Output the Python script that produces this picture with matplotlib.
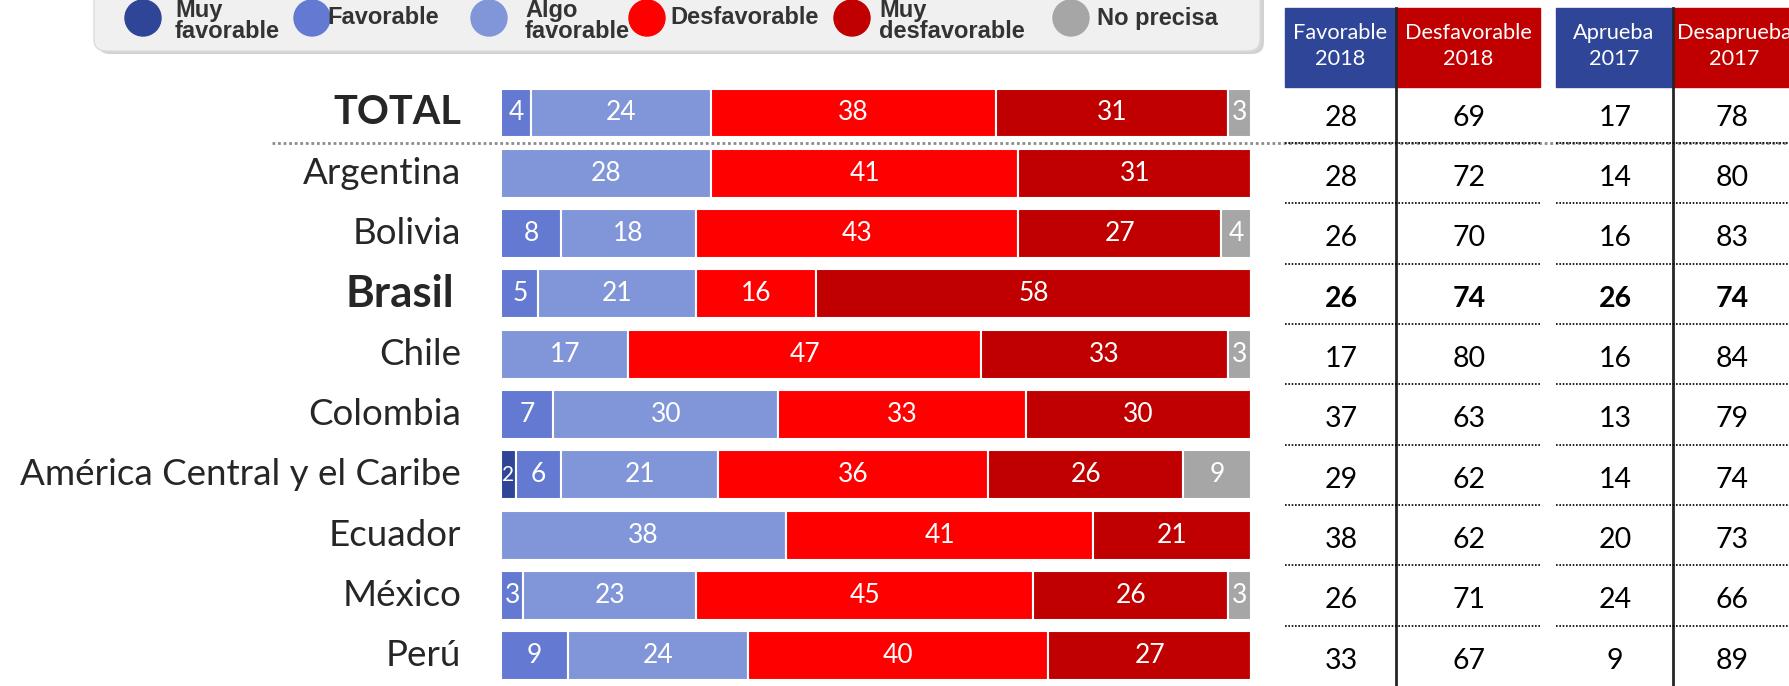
import numpy as np
import matplotlib
matplotlib.use("Agg")
import matplotlib.pyplot as plt
from matplotlib.patches import FancyBboxPatch, Circle, Rectangle

plt.rcParams['font.family'] = ['Lato', 'DejaVu Sans']

# datos
paises = ["TOTAL", "Argentina", "Bolivia", "Brasil", "Chile", "Colombia",
          "América Central y el Caribe", "Ecuador", "México", "Perú"]
muy_fav = [0, 0, 0, 0, 0, 0, 2, 0, 0, 0]
fav = [4, 0, 8, 5, 0, 7, 6, 0, 3, 9]
algo_fav = [24, 28, 18, 21, 17, 30, 21, 38, 23, 24]
desf = [38, 41, 43, 16, 47, 33, 36, 41, 45, 40]
muy_desf = [31, 31, 27, 58, 33, 30, 26, 21, 26, 27]
no_precisa = [3, 0, 4, 0, 3, 0, 9, 0, 3, 0]

fav_2018 = [28, 28, 26, 26, 17, 37, 29, 38, 26, 33]
desf_2018 = [69, 72, 70, 74, 80, 63, 62, 62, 71, 67]
aprueba_2017 = [17, 14, 16, 26, 16, 13, 14, 20, 24, 9]
desaprueba_2017 = [78, 80, 83, 74, 84, 79, 74, 73, 66, 89]

series = [muy_fav, fav, algo_fav, desf, muy_desf, no_precisa]
nombres = ["Muy\nfavorable", "Favorable", "Algo\nfavorable", "Desfavorable",
           "Muy\ndesfavorable", "No precisa"]
colores = ["#2f4598", "#6479d1", "#8195d9", "#ff0000", "#c00000", "#a6a6a6"]

W, H = 1790, 686
fig = plt.figure(figsize=(W / 100, H / 100), dpi=100)

# capa de fondo en pixeles
ax0 = fig.add_axes([0, 0, 1, 1])
ax0.set_xlim(0, W)
ax0.set_ylim(H, 0)
ax0.axis("off")

# leyenda
ax0.add_patch(FancyBboxPatch((98, -30), 1166, 84, boxstyle="round,pad=0,rounding_size=12",
                             fc="#b5b5b5", ec="none", alpha=0.6))
ax0.add_patch(FancyBboxPatch((94, -30), 1166, 81, boxstyle="round,pad=0,rounding_size=12",
                             fc="#f0f0f0", ec="#dcdcdc", lw=1))
circ_x = [143, 312, 489, 647, 852, 1071]
text_x = [175, 327, 525, 670, 879, 1097]
for cx, tx, nom, col in zip(circ_x, text_x, nombres, colores):
    ax0.add_patch(Circle((cx, 18), 18, color=col))
    ty = 21 if "\n" in nom else 18
    ax0.text(tx, ty, nom, ha="left", va="center", fontsize=17, fontweight="bold",
             family=["Liberation Sans", "DejaVu Sans"], color="#333333", linespacing=0.93)

# barras
fila0, paso = 113, 60.3
n = len(paises)
y_top = fila0 - paso / 2
y_bot = fila0 + paso * (n - 0.5)
pos = [501 / W, 1 - y_bot / H, 750 / W, (y_bot - y_top) / H]
ax = fig.add_axes(pos)
ax.patch.set_alpha(0)
y = np.arange(n)
left = np.zeros(n)
for vals, col in zip(series, colores):
    vals = np.array(vals)
    bars = ax.barh(y, vals, left=left, height=0.81, color=col, edgecolor="white", linewidth=1.5)
    for b, v in zip(bars, vals):
        if v > 0:
            ax.text(b.get_x() + b.get_width() / 2, b.get_y() + b.get_height() / 2, str(v),
                    ha="center", va="center", color="white", fontsize=19 if v > 2 else 15)
    left += vals
ax.set_xlim(0, 100)
ax.set_ylim(n - 0.5, -0.5)
ax.axis("off")

for i, p in enumerate(paises):
    if p == "TOTAL":
        ax.text(-5.3, i, p, ha="right", va="center", fontsize=28.5, fontweight="bold", color="#262626")
    elif p == "Brasil":
        ax.text(-6.2, i, p, ha="right", va="center", fontsize=31.5, fontweight="bold", color="#262626")
    else:
        ax.text(-5.3, i, p, ha="right", va="center", fontsize=26.5, color="#262626")

def fila(py):
    return (py - fila0) / paso

# separador bajo TOTAL
ax.plot([(272 - 501) / 7.5, (1790 - 501) / 7.5], [0.5, 0.5], color="#8c8c8c", lw=2,
        ls=(0, (1, 1)), clip_on=False)

# tabla
ax_t = fig.add_axes([1250 / W, pos[1], 540 / W, pos[3]], sharey=ax)
ax_t.set_xlim(1250, 1790)
ax_t.set_ylim(n - 0.5, -0.5)
ax_t.axis("off")
ax_t.patch.set_alpha(0)

encabezados = [("Favorable\n2018", "#2f4598", 1285, 1395, 1340),
               ("Desfavorable\n2018", "#c00000", 1397, 1540, 1468),
               ("Aprueba\n2017", "#2f4598", 1556, 1672, 1614),
               ("Desaprueba\n2017", "#c00000", 1674, 1800, 1734)]
for txt, col, x0, x1, xc in encabezados:
    ax_t.add_patch(Rectangle((x0, fila(8)), x1 - x0, fila(87) - fila(8), color=col, clip_on=False))
    ax_t.text(xc, fila(46), txt, ha="center", va="center", color="white", fontsize=15.7,
              linespacing=1.42, clip_on=False)

for xl in [1396, 1673]:
    ax_t.plot([xl, xl], [fila(8), fila(H)], color="#262626", lw=2, clip_on=False)

for i in range(n - 1):
    ax_t.hlines(i + 0.5, 1285, 1540, colors="black", lw=1.2, linestyles=(0, (1, 1)))
    ax_t.hlines(i + 0.5, 1556, 1790, colors="black", lw=1.2, linestyles=(0, (1, 1)))

col_x = [1341, 1469, 1615, 1732]
for cx, vals in zip(col_x, [fav_2018, desf_2018, aprueba_2017, desaprueba_2017]):
    for i, v in enumerate(vals):
        peso = "bold" if paises[i] == "Brasil" else "normal"
        ax_t.text(cx, i + 0.08, str(v), ha="center", va="center", fontsize=20.5,
                  fontweight=peso, color="black")

fig.savefig("out.png", dpi=100)
